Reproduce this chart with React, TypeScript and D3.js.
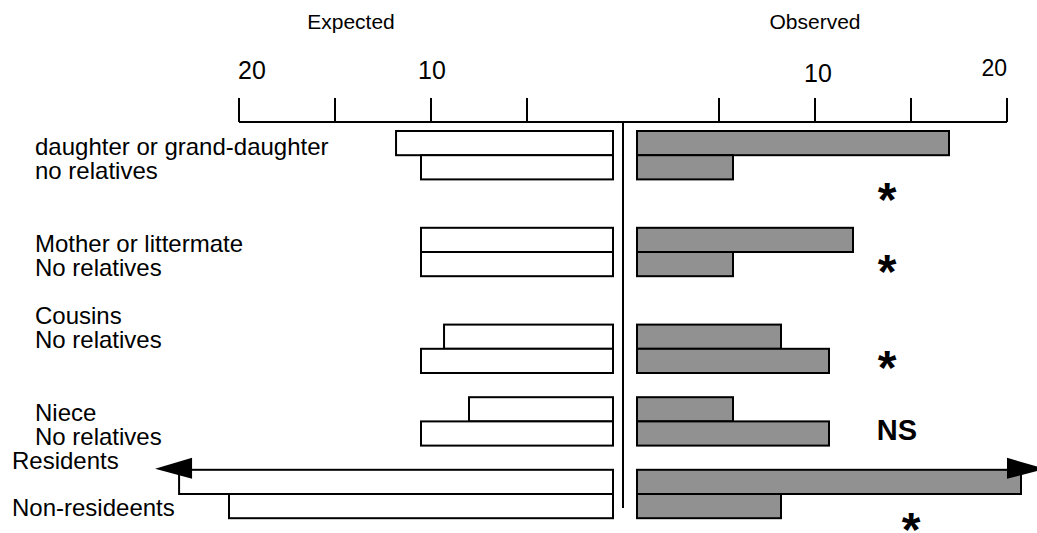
import React from "react";
import * as d3 from "d3";

// ---------- data ----------
const rowLabels = [
  "daughter or grand-daughter",
  "no relatives",
  "Mother or littermate",
  "No relatives",
  "Cousins",
  "No relatives",
  "Niece",
  "No relatives",
  "Residents",
  "Non-resideents",
];
const expectedValues = [11.3, 10, 10, 10, 8.8, 10, 7.5, 10, 22.6, 20];
const observedValues = [16.25, 5, 11.25, 5, 7.5, 10, 5, 10, 20, 7.5];
const significance = ["*", "*", "*", "NS", "*"];
const tickValues = [5, 10, 15, 20];
const tickLabels = [20, 10];
const headers = ["Expected", "Observed"];
const overflowRows = [8]; // bars drawn with arrows (beyond axis)

// ---------- layout ----------
const W = 1037;
const H = 533;
const FONT = "'Liberation Sans', Arial, Helvetica, sans-serif";
const rowSlot = [0, 1, 4, 5, 8, 9, 11, 12, 14, 15];
const labelShift = [0, 0, 0, 0, -1, -1, 0, 0, -1, -0.08];
const labelX = [35, 35, 35, 35, 35, 35, 35, 35, 12, 12];
const sigLayout = [
  { x: 887, cy: 189 },
  { x: 887, cy: 261 },
  { x: 887, cy: 357 },
  { x: 897, cy: 429 },
  { x: 911, cy: 519 },
];

export default function App() {
  const axisY = 122;
  const slot = d3.scaleLinear().domain([0, 1]).range([131, 155.2]);
  const barH = slot(1) - slot(0);

  const axisL = d3.scaleLinear().domain([0, 20]).range([623, 239]);
  const axisR = d3.scaleLinear().domain([0, 20]).range([623, 1007]);
  const barL = d3.scaleLinear().domain([0, 20]).range([613, 229]);
  const barR = d3.scaleLinear().domain([0, 20]).range([637, 1021]);

  const sw = 2;

  return (
    <svg
      width={W}
      height={H}
      style={{ position: "absolute", left: 0, top: 0, background: "#fff" }}
      fontFamily={FONT}
    >
      <rect x={0} y={0} width={W} height={H} fill="#fff" />
      {/* headers */}
      <text x={351} y={29} fontSize={21} textAnchor="middle" fill="#000">
        {headers[0]}
      </text>
      <text x={815} y={29} fontSize={21} textAnchor="middle" fill="#000">
        {headers[1]}
      </text>

      {/* axis line */}
      <line x1={axisL(20)} x2={axisR(20)} y1={axisY} y2={axisY} stroke="#000" strokeWidth={sw} />
      {tickValues.map((t) => (
        <g key={"t" + t}>
          <line x1={axisL(t)} x2={axisL(t)} y1={axisY - 24} y2={axisY} stroke="#000" strokeWidth={sw} />
          <line x1={axisR(t)} x2={axisR(t)} y1={axisY - 24} y2={axisY} stroke="#000" strokeWidth={sw} />
        </g>
      ))}
      {/* tick labels */}
      {tickLabels.map((v) => (
        <text
          key={"ll" + v}
          x={v === 20 ? axisL(v) - 1 : axisL(v) + 1}
          y={79}
          fontSize={25}
          textAnchor={v === 20 ? "start" : "middle"}
          fill="#000"
        >
          {v}
        </text>
      ))}
      {tickLabels.map((v) => (
        <text
          key={"rl" + v}
          x={v === 20 ? axisR(v) : axisR(v) + 3}
          y={v === 20 ? 76 : 82}
          fontSize={v === 20 ? 23 : 25}
          textAnchor={v === 20 ? "end" : "middle"}
          fill="#000"
        >
          {v}
        </text>
      ))}

      {/* center line */}
      <line x1={623} x2={623} y1={axisY - 1} y2={508} stroke="#000" strokeWidth={sw} />

      {/* bars */}
      {rowLabels.map((lab, i) => {
        const y0 = slot(rowSlot[i]);
        const ev = expectedValues[i];
        const ov = observedValues[i];
        return (
          <g key={"bar" + i}>
            <rect
              x={barL(ev)}
              y={y0}
              width={barL(0) - barL(ev)}
              height={barH}
              fill="#fff"
              stroke="#000"
              strokeWidth={sw}
            />
            <rect
              x={barR(0)}
              y={y0}
              width={barR(ov) - barR(0)}
              height={barH}
              fill="#919191"
              stroke="#000"
              strokeWidth={sw}
            />
          </g>
        );
      })}

      {/* arrows for overflowing bars */}
      {overflowRows.map((i) => {
        const y0 = slot(rowSlot[i]) - 1;
        const xl = barL(expectedValues[i]);
        const xr = barR(observedValues[i]);
        return (
          <g key={"arr" + i}>
            <polygon
              points={`${xl - 24},${y0} ${xl + 13},${y0 - 11} ${xl + 13},${y0 + 10}`}
              fill="#000"
            />
            <polygon
              points={`${xr + 24},${y0} ${xr - 14},${y0 - 11} ${xr - 14},${y0 + 10}`}
              fill="#000"
            />
          </g>
        );
      })}

      {/* row labels */}
      {rowLabels.map((lab, i) => (
        <text
          key={"lab" + i}
          x={labelX[i]}
          y={slot(rowSlot[i] + 1 + labelShift[i]) - 0.5}
          fontSize={24}
          fill="#000"
        >
          {lab}
        </text>
      ))}

      {/* significance */}
      {significance.map((s, i) =>
        s === "*" ? (
          <text
            key={"sig" + i}
            x={sigLayout[i].x}
            y={sigLayout[i].cy + 27}
            fontSize={48}
            fontWeight="bold"
            textAnchor="middle"
            fill="#000"
          >
            {s}
          </text>
        ) : (
          <text
            key={"sig" + i}
            x={sigLayout[i].x}
            y={sigLayout[i].cy + 11}
            fontSize={29}
            fontWeight="bold"
            textAnchor="middle"
            fill="#000"
          >
            {s}
          </text>
        )
      )}
    </svg>
  );
}
